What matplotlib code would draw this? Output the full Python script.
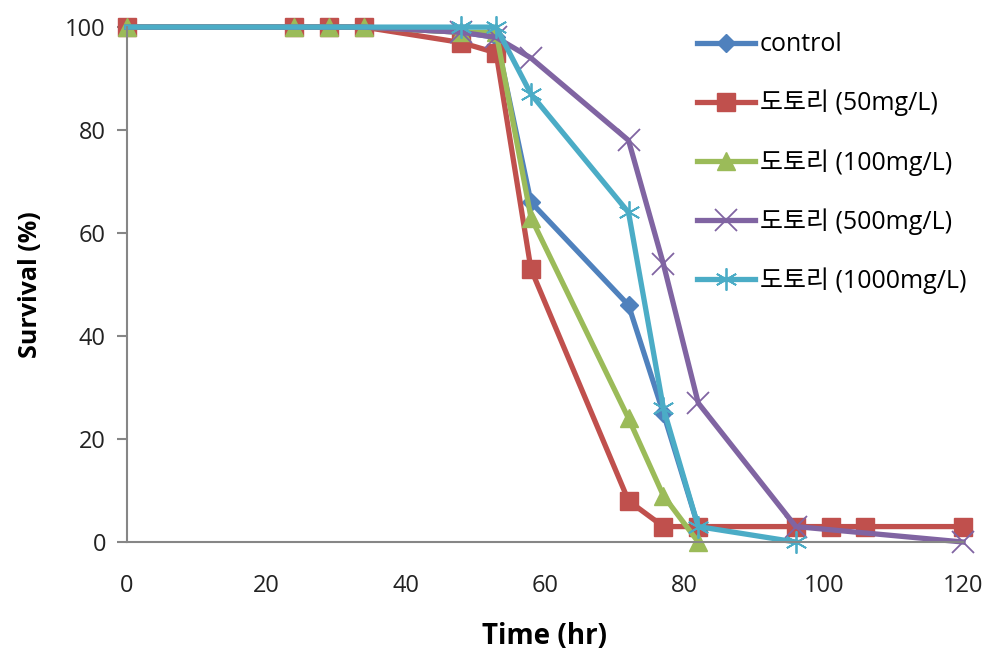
import matplotlib
matplotlib.use('Agg')
import matplotlib.pyplot as plt

plt.rcParams['font.family'] = ['Open Sans', 'Noto Sans CJK KR', 'DejaVu Sans']

# data
x_control = [0, 24, 29, 34, 48, 53, 58, 72, 77, 82]
y_control = [100, 100, 100, 100, 99, 98, 66, 46, 25, 3]

x_50 = [0, 24, 29, 34, 48, 53, 58, 72, 77, 82, 96, 101, 106, 120]
y_50 = [100, 100, 100, 100, 97, 95, 53, 8, 3, 3, 3, 3, 3, 3]

x_100 = [0, 24, 29, 34, 48, 53, 58, 72, 77, 82]
y_100 = [100, 100, 100, 100, 99, 99, 63, 24, 9, 0]

x_500 = [0, 24, 29, 34, 48, 53, 58, 72, 77, 82, 96, 120]
y_500 = [100, 100, 100, 100, 99, 98, 94, 78, 54, 27, 3, 0]

x_1000 = [0, 24, 29, 34, 48, 53, 58, 72, 77, 82, 96]
y_1000 = [100, 100, 100, 100, 100, 100, 87, 64, 26, 3, 0]

labels = ['control', '도토리 (50mg/L)', '도토리 (100mg/L)', '도토리 (500mg/L)', '도토리 (1000mg/L)']
colors = ['#4F81BD', '#C0504D', '#9BBB59', '#8064A2', '#4BACC6']

fig = plt.figure(figsize=(9.98, 6.61), dpi=100)
ax = fig.add_axes([0.127, 0.18, 0.838, 0.779])

lw = 3.8
ax.plot(x_control, y_control, color=colors[0], lw=lw, marker='D', ms=9, label=labels[0])
ax.plot(x_50, y_50, color=colors[1], lw=lw, marker='s', ms=13, label=labels[1])
ax.plot(x_100, y_100, color=colors[2], lw=lw, marker='^', ms=13, label=labels[2])
# purple / cyan markers not shown on the first flat points
ax.plot(x_500, y_500, color=colors[3], lw=lw, marker='x', ms=16, mew=1.3,
        markevery=list(range(4, len(x_500))), label=labels[3])
ax.plot(x_1000, y_1000, color=colors[4], lw=lw, marker=(6, 2, 0), ms=16, mew=1.3,
        markevery=list(range(4, len(x_1000))), label=labels[4])

ax.set_xlim(0, 120)
ax.set_ylim(0, 100)
ax.set_xticks([0, 20, 40, 60, 80, 100, 120])
ax.set_yticks([0, 20, 40, 60, 80, 100])
for s in ['top', 'right']:
    ax.spines[s].set_visible(False)
for s in ['left', 'bottom']:
    ax.spines[s].set_color('#868686')
    ax.spines[s].set_linewidth(1.5)
ax.tick_params(axis='both', colors='#868686', labelcolor='#222222', labelsize=17, width=1.5, length=7, direction='out')
ax.tick_params(axis='x', pad=23, length=0)
ax.tick_params(axis='y', pad=8)

ax.set_xlabel('Time (hr)', fontsize=20, fontweight='bold', labelpad=17)
ax.set_ylabel('Survival (%)', fontsize=18, fontweight='bold', labelpad=16)

for line in ax.get_lines():
    line.set_clip_on(False)

leg = ax.legend(loc='upper left', bbox_to_anchor=(0.682, 0.99), frameon=False, fontsize=18,
                handlelength=2.3, labelspacing=1.3, handletextpad=0.2,
                borderaxespad=0, borderpad=0)

fig.savefig('out.png', dpi=100)
